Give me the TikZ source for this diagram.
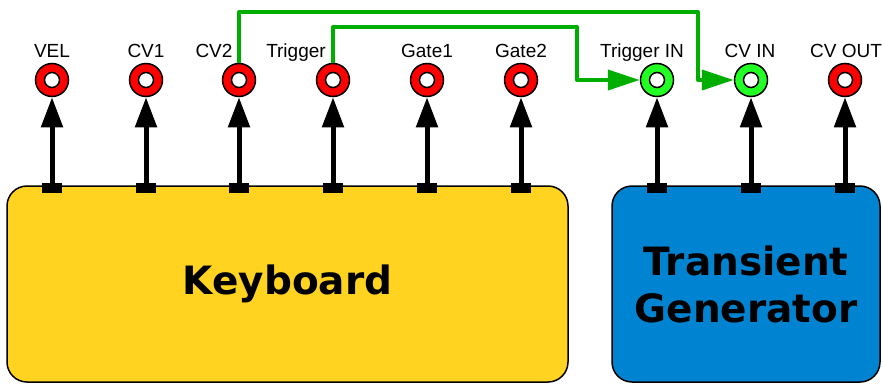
\documentclass[tikz,border=0pt]{standalone}
\usepackage{fontspec}
\setmainfont{Liberation Sans}
\newfontfamily\boxfont{DejaVu Sans}
\usetikzlibrary{arrows.meta}
\definecolor{keyyellow}{HTML}{FFD320}
\definecolor{genblue}{HTML}{0084D1}
\definecolor{patchgreen}{HTML}{00AE00}
\definecolor{jackgreen}{HTML}{22FF22}

\begin{document}
\begin{tikzpicture}[x=1pt,y=-1pt,
  jack/.style={circle,draw=black,line width=1.5pt,minimum size=33pt,inner sep=0pt,
    path picture={\draw [fill=white,line width=1.5pt] (path picture bounding box.center) circle [radius=7.5pt];}},
  pad/.style={rectangle,fill=black,minimum width=20pt,minimum height=10pt,inner sep=0pt},
  lbl/.style={anchor=base,font=\fontsize{19}{23}\selectfont},
  unit/.style={draw=black,line width=1.5pt,rounded corners=20pt,inner sep=0pt,align=center,
    font=\boxfont\bfseries\fontsize{39}{47}\selectfont},
  sig/.style={line width=5pt,-{Triangle[length=30pt,width=21pt]}},
  patch/.style={patchgreen,line width=4pt,line join=round,-{Triangle[length=32pt,width=20pt]}}]
\useasboundingbox (0,0) rectangle (882,383);
\node [unit,fill=keyyellow,minimum width=561pt,minimum height=196pt] (keyboard) at (287.5,284) {Keyboard};
\node [unit,fill=genblue,minimum width=268pt,minimum height=196pt] (generator) at (746,284) {Transient\\Generator};
\node [pad] (pvel) at (52,188) {};
\node [pad] (pcv1) at (146,188) {};
\node [pad] (pcv2) at (239,188) {};
\node [pad] (ptrig) at (333,188) {};
\node [pad] (pgate1) at (427,188) {};
\node [pad] (pgate2) at (521,188) {};
\node [pad] (ptrigin) at (657,188) {};
\node [pad] (pcvin) at (751,188) {};
\node [pad] (pcvout) at (845,188) {};
\node [jack,fill=red] (vel) at (52,80) {};
\node [jack,fill=red] (cv1) at (146,80) {};
\node [jack,fill=red] (cv2) at (239,80) {};
\node [jack,fill=red] (trig) at (333,80) {};
\node [jack,fill=red] (gate1) at (427,80) {};
\node [jack,fill=red] (gate2) at (521,80) {};
\node [jack,fill=jackgreen] (trigin) at (657,80) {};
\node [jack,fill=jackgreen] (cvin) at (751,80) {};
\node [jack,fill=red] (cvout) at (845,80) {};
\node [lbl] (lvel) at (52,57) {VEL};
\node [lbl] (lcv1) at (146,57) {CV1};
\node [lbl] (lcv2) at (214,57) {CV2};
\node [lbl] (ltrig) at (296,57) {Trigger};
\node [lbl] (lgate1) at (427,57) {Gate1};
\node [lbl] (lgate2) at (521,57) {Gate2};
\node [lbl] (ltrigin) at (642,57) {Trigger IN};
\node [lbl] (lcvin) at (750,57) {CV IN};
\node [lbl] (lcvout) at (846,57) {CV OUT};
\draw [sig] (pvel.center) -- (vel);
\draw [sig] (pcv1.center) -- (cv1);
\draw [sig] (pcv2.center) -- (cv2);
\draw [sig] (ptrig.center) -- (trig);
\draw [sig] (pgate1.center) -- (gate1);
\draw [sig] (pgate2.center) -- (gate2);
\draw [sig] (ptrigin.center) -- (trigin);
\draw [sig] (pcvin.center) -- (cvin);
\draw [sig] (pcvout.center) -- (cvout);
\coordinate (hopcv) at (698,12);
\coordinate (hoptrig) at (577,27);
\draw [patch] (cv2) |- (hopcv) |- (cvin);
\draw [patch] (trig) |- (hoptrig) |- (trigin);
\end{tikzpicture}
\end{document}
